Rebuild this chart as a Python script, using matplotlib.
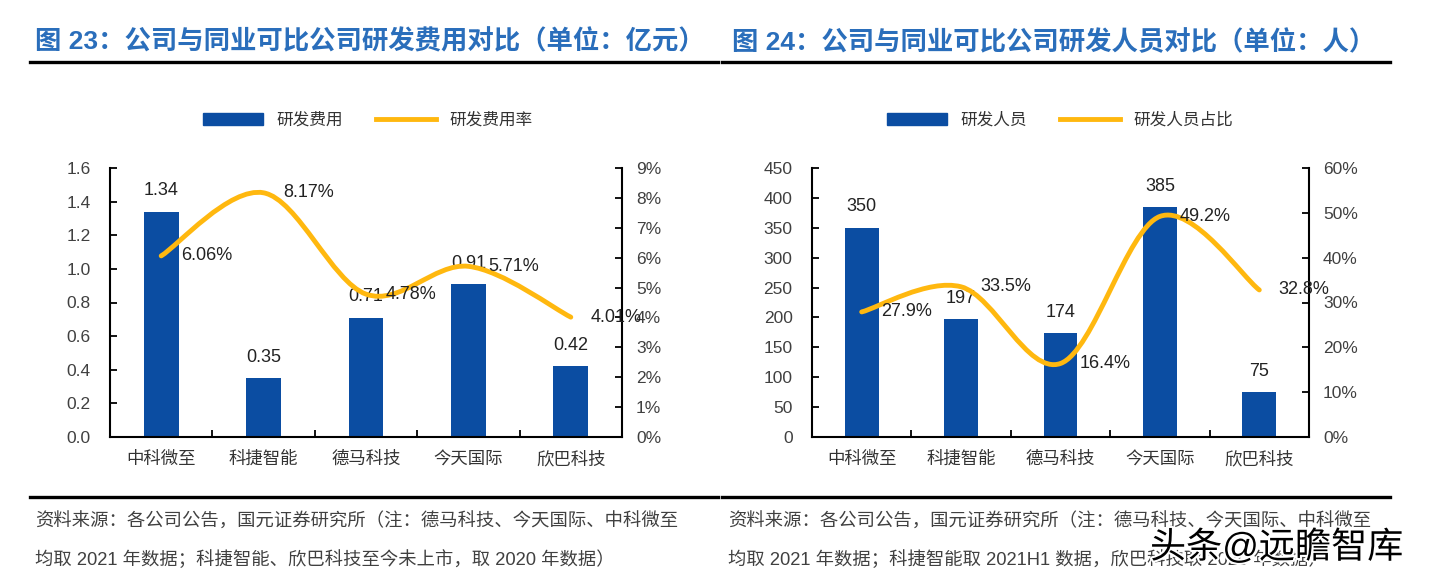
import matplotlib
matplotlib.use('Agg')
import matplotlib.pyplot as plt
import numpy as np
from matplotlib.path import Path
from matplotlib.patches import PathPatch, Patch
from matplotlib.lines import Line2D
import matplotlib.patheffects as pe

plt.rcParams['font.family'] = ['Liberation Sans', 'Noto Sans CJK SC', 'DejaVu Sans']

companies = ['中科微至', '科捷智能', '德马科技', '今天国际', '欣巴科技']
rd_cost = [1.34, 0.35, 0.71, 0.91, 0.42]          # 亿元
rd_cost_rate = [6.06, 8.17, 4.78, 5.71, 4.01]      # %
rd_staff = [350, 197, 174, 385, 75]                # 人
rd_staff_ratio = [27.9, 33.5, 16.4, 49.2, 32.8]    # %

BLUE = '#0B4DA2'
GOLD = '#FFB80F'
TITLE_BLUE = '#2A6EBB'
W, H = 1436, 586


def smooth_path(xs, ys):
    # excel style smoothed line: catmull-rom segments as cubic beziers
    pts = np.column_stack([xs, ys]).astype(float)
    n = len(pts)
    verts = [pts[0]]
    codes = [Path.MOVETO]
    for i in range(n - 1):
        p0 = pts[i - 1] if i > 0 else pts[i]
        p1, p2 = pts[i], pts[i + 1]
        p3 = pts[i + 2] if i + 2 < n else pts[i + 1]
        verts += [p1 + (p2 - p0) / 6, p2 - (p3 - p1) / 6, p2]
        codes += [Path.CURVE4] * 3
    return Path(verts, codes)


def panel(rect, bars, line, ymax, ystep, y2max, y2step, bar_fmt, line_fmt, yfmt, legend_labels, legend_x):
    ax = fig.add_axes(rect)
    x = np.arange(len(companies))
    ax.bar(x, bars, width=0.34, color=BLUE, zorder=2)
    ax.set_xlim(-0.5, len(companies) - 0.5)
    ax.set_ylim(0, ymax)
    ax.set_yticks(np.arange(0, ymax + ystep / 2, ystep))
    ax.yaxis.set_major_formatter(yfmt)
    ax.set_xticks(np.arange(0.5, len(companies) - 1, 1))
    ax.set_xticklabels([])
    ax.set_xticks(x, minor=True)
    ax.set_xticklabels(companies, minor=True, fontsize=12.5, color='#333333')
    ax.tick_params(axis='x', which='major', direction='in', length=5, width=1.3)
    ax.tick_params(axis='x', which='minor', length=0, pad=10)
    ax.tick_params(axis='y', direction='in', length=5, width=1.3, labelsize=12.5,
                   labelcolor='#404040', pad=14)
    for s in ['top', 'right']:
        ax.spines[s].set_visible(False)
    for s in ['left', 'bottom']:
        ax.spines[s].set_linewidth(1.5)
    for xi, v in zip(x, bars):
        ax.annotate(bar_fmt(v), (xi, v), xytext=(0, 15), textcoords='offset points',
                    ha='center', va='center', fontsize=13, color='#222222')

    ax2 = ax.twinx()
    ax2.set_ylim(0, y2max)
    ax2.set_yticks(np.arange(0, y2max + y2step / 2, y2step))
    ax2.set_yticklabels(['%d%%' % t for t in np.arange(0, y2max + y2step / 2, y2step)])
    ax2.tick_params(axis='y', direction='in', length=5, width=1.3, labelsize=12.5,
                    labelcolor='#404040', pad=10)
    for s in ['top', 'left', 'bottom']:
        ax2.spines[s].set_visible(False)
    ax2.spines['right'].set_linewidth(1.5)
    ax2.add_patch(PathPatch(smooth_path(x, line), facecolor='none', edgecolor=GOLD,
                            lw=3.5, capstyle='round', joinstyle='round', zorder=3))
    for xi, v in zip(x, line):
        ax2.annotate(line_fmt(v), (xi, v), xytext=(14, 0), textcoords='offset points',
                     ha='left', va='center', fontsize=13, color='#222222', zorder=4)

    handles = [Patch(color=BLUE), Line2D([], [], color=GOLD, lw=3.5)]
    fig.legend(handles, legend_labels, loc='center', bbox_to_anchor=(legend_x, 1 - 120 / H),
               ncol=2, frameon=False, fontsize=12, handlelength=3.6, handleheight=0.8,
               columnspacing=2.0, labelcolor='#333333')
    return ax


fig = plt.figure(figsize=(W / 100, H / 100), dpi=100)

panel([110 / W, 149 / H, 512 / W, 269 / H], rd_cost, rd_cost_rate, 1.6, 0.2, 9, 1,
      lambda v: '%.2f' % v, lambda v: '%.2f%%' % v,
      matplotlib.ticker.FormatStrFormatter('%.1f'), ['研发费用', '研发费用率'], 368 / W)
panel([812 / W, 149 / H, 497 / W, 269 / H], rd_staff, rd_staff_ratio, 450, 50, 60, 10,
      lambda v: '%d' % v, lambda v: '%.1f%%' % v,
      matplotlib.ticker.FormatStrFormatter('%d'), ['研发人员', '研发人员占比'], 1060 / W)

# titles
fig.text(35 / W, 1 - 42 / H, '图 23：公司与同业可比公司研发费用对比（单位：亿元）',
         fontsize=19, fontweight='bold', color=TITLE_BLUE, va='center')
fig.text(732 / W, 1 - 42 / H, '图 24：公司与同业可比公司研发人员对比（单位：人）',
         fontsize=19, fontweight='bold', color=TITLE_BLUE, va='center')

# rules
for y in [62, 497]:
    fig.add_artist(Line2D([30 / W, 718 / W], [1 - y / H] * 2, color='black', lw=2.4))
    fig.add_artist(Line2D([722 / W, 1390 / W], [1 - y / H] * 2, color='black', lw=2.4))

# notes
note_kw = dict(fontsize=13.2, color='#404040', va='center')
fig.text(35 / W, 1 - 522 / H, '资料来源：各公司公告，国元证券研究所（注：德马科技、今天国际、中科微至', **note_kw)
fig.text(35 / W, 1 - 560 / H, '均取 2021 年数据；科捷智能、欣巴科技至今未上市，取 2020 年数据）', **note_kw)
fig.text(728 / W, 1 - 522 / H, '资料来源：各公司公告，国元证券研究所（注：德马科技、今天国际、中科微至', **note_kw)
fig.text(728 / W, 1 - 560 / H, '均取 2021 年数据；科捷智能取 2021H1 数据，欣巴科技取 2020 年数据）', **note_kw)

# watermark
fig.text(1150 / W, 1 - 548 / H, '头条@远瞻智库', fontsize=26, color='black', va='center',
         path_effects=[pe.withStroke(linewidth=3, foreground='white')])

fig.savefig('out.png', dpi=100)
